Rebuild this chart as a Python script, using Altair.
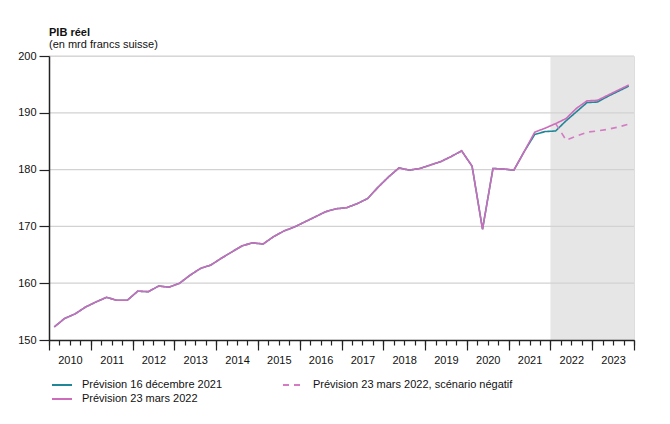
import altair as alt
import pandas as pd

FONT = "Liberation Sans"
START_YEAR = 2010

# Quarterly real GDP (bn CHF), 2010 Q1 .. 2021 Q2 (common history)
hist = [152.3, 153.8, 154.6, 155.8, 156.7, 157.5, 157.0, 157.0,
        158.6, 158.5, 159.5, 159.3, 160.0, 161.4, 162.6, 163.2,
        164.4, 165.5, 166.6, 167.1, 166.9, 168.2, 169.2, 169.9,
        170.8, 171.7, 172.6, 173.1, 173.3, 174.0, 174.9, 176.9,
        178.7, 180.3, 179.9, 180.2, 180.8, 181.4, 182.3, 183.3,
        180.6, 169.5, 180.2, 180.1, 179.9, 183.2]
# From 2021 Q3 (index 46) to 2023 Q4
dec2021 = [186.2, 186.7, 186.8, 188.6, 190.2, 191.8, 191.9, 192.9, 193.8, 194.7]
mar2022 = [186.6, 187.3, 188.1, 189.0, 190.8, 192.1, 192.2, 193.1, 194.0, 194.9]
# Negative scenario, from 2022 Q1 (index 48) to 2023 Q4
neg = [188.1, 185.2, 185.9, 186.6, 186.8, 187.1, 187.5, 188.0]

SERIES = ["Prévision 16 décembre 2021",
          "Prévision 23 mars 2022, scénario négatif",
          "Prévision 23 mars 2022"]
COLORS = ["#1F8797", "#D57BC4", "#CC6CBB"]
DASHES = [[1, 0], [6, 5], [1, 0]]

y_ticks = [150, 160, 170, 180, 190, 200]
grid_vals = [160, 170, 180, 190, 200]
years = list(range(2010, 2025))
quarter_bounds = [y + q / 4 for y in range(2010, 2024) for q in range(4)] + [2024]
forecast_start, forecast_end = 2022, 2024


def qx(i):
    return START_YEAR + (i + 0.5) / 4


def make_df(name, values, start_index):
    return pd.DataFrame({
        "x": [qx(start_index + k) for k in range(len(values))],
        "value": values,
        "series": name,
    })


df_dec = make_df(SERIES[0], hist + dec2021, 0)
df_mar = make_df(SERIES[2], hist + mar2022, 0)
df_neg = make_df(SERIES[1], neg, 48)

xscale = alt.Scale(domain=[2010, 2024], nice=False, zero=False)
yscale = alt.Scale(domain=[150, 200], nice=False, zero=False)

legend = alt.Legend(
    title=None, orient="none", legendX=7, legendY=323, columns=2,
    direction="horizontal",
    symbolType="M-2,0H2", symbolSize=100, symbolStrokeWidth=2,
    labelFont=FONT, labelFontSize=11, labelColor="#111111",
    labelOffset=14, columnPadding=56, rowPadding=3, padding=0,
    labelLimit=400,
)
color = alt.Color("series:N", scale=alt.Scale(domain=SERIES, range=COLORS), legend=legend)
dash = alt.StrokeDash("series:N", scale=alt.Scale(domain=SERIES, range=DASHES), legend=legend)

shade = alt.Chart(pd.DataFrame({"x": [forecast_start], "x2": [forecast_end],
                                "y": [150], "y2": [200]})).mark_rect(color="#E6E6E6").encode(
    x=alt.X("x:Q", scale=xscale, axis=alt.Axis(
        orient="bottom", values=years, tickSize=10, tickWidth=1.2, tickColor="#222222",
        labels=False, domain=True, domainColor="#222222", domainWidth=1.5,
        grid=False, title=None, zindex=1)),
    x2="x2:Q",
    y=alt.Y("y:Q", scale=yscale, axis=alt.Axis(
        orient="left", values=y_ticks, tickSize=10, tickWidth=1.2, tickColor="#222222",
        domain=True, domainColor="#222222", domainWidth=1.5, grid=False, title=None,
        labelFont=FONT, labelFontSize=11, labelColor="#111111", labelPadding=3,
        zindex=1)),
    y2="y2:Q",
)

grid = alt.Chart(pd.DataFrame({"v": grid_vals})).mark_rule(color="#D2D2D2", strokeWidth=1.2).encode(
    y=alt.Y("v:Q", scale=yscale, axis=None)
)

line_dec = alt.Chart(df_dec).mark_line(strokeWidth=1.6).encode(
    x=alt.X("x:Q", scale=xscale, axis=alt.Axis(
        orient="bottom", values=quarter_bounds, tickSize=5, tickWidth=1.2, tickColor="#222222",
        domain=False, grid=False, title=None,
        labelExpr="datum.value % 1 == 0.5 ? '' + floor(datum.value) : ''",
        labelFont=FONT, labelFontSize=11, labelColor="#111111", labelPadding=9,
        labelOverlap=False, labelFlush=False, labelBound=False, zindex=1)),
    y=alt.Y("value:Q", scale=yscale, axis=None),
    color=color, strokeDash=dash,
)

line_mar = alt.Chart(df_mar).mark_line(strokeWidth=1.6).encode(
    x=alt.X("x:Q", scale=xscale, axis=None),
    y=alt.Y("value:Q", scale=yscale, axis=None),
    color=color, strokeDash=dash,
)

line_neg = alt.Chart(df_neg).mark_line(strokeWidth=1.6).encode(
    x=alt.X("x:Q", scale=xscale, axis=None),
    y=alt.Y("value:Q", scale=yscale, axis=None),
    color=color, strokeDash=dash,
)

chart = alt.layer(shade, grid, line_dec, line_mar, line_neg).resolve_axis(
    x="independent", y="independent"
).properties(
    width=585, height=284,
    padding={"left": 41, "top": 48, "right": 20, "bottom": 76},
    autosize=alt.AutoSizeParams(type="none"),
    title=alt.TitleParams(
        text="PIB réel", subtitle="(en mrd francs suisse)",
        anchor="start", frame="group", offset=0,
        font=FONT, fontSize=11, fontWeight="bold", color="#111111",
        subtitleFont=FONT, subtitleFontSize=11, subtitleColor="#111111",
        subtitlePadding=1,
    ),
).configure_view(stroke=None).configure(font=FONT)

chart.save("out.html", embed_options={"renderer": "svg", "actions": False})
